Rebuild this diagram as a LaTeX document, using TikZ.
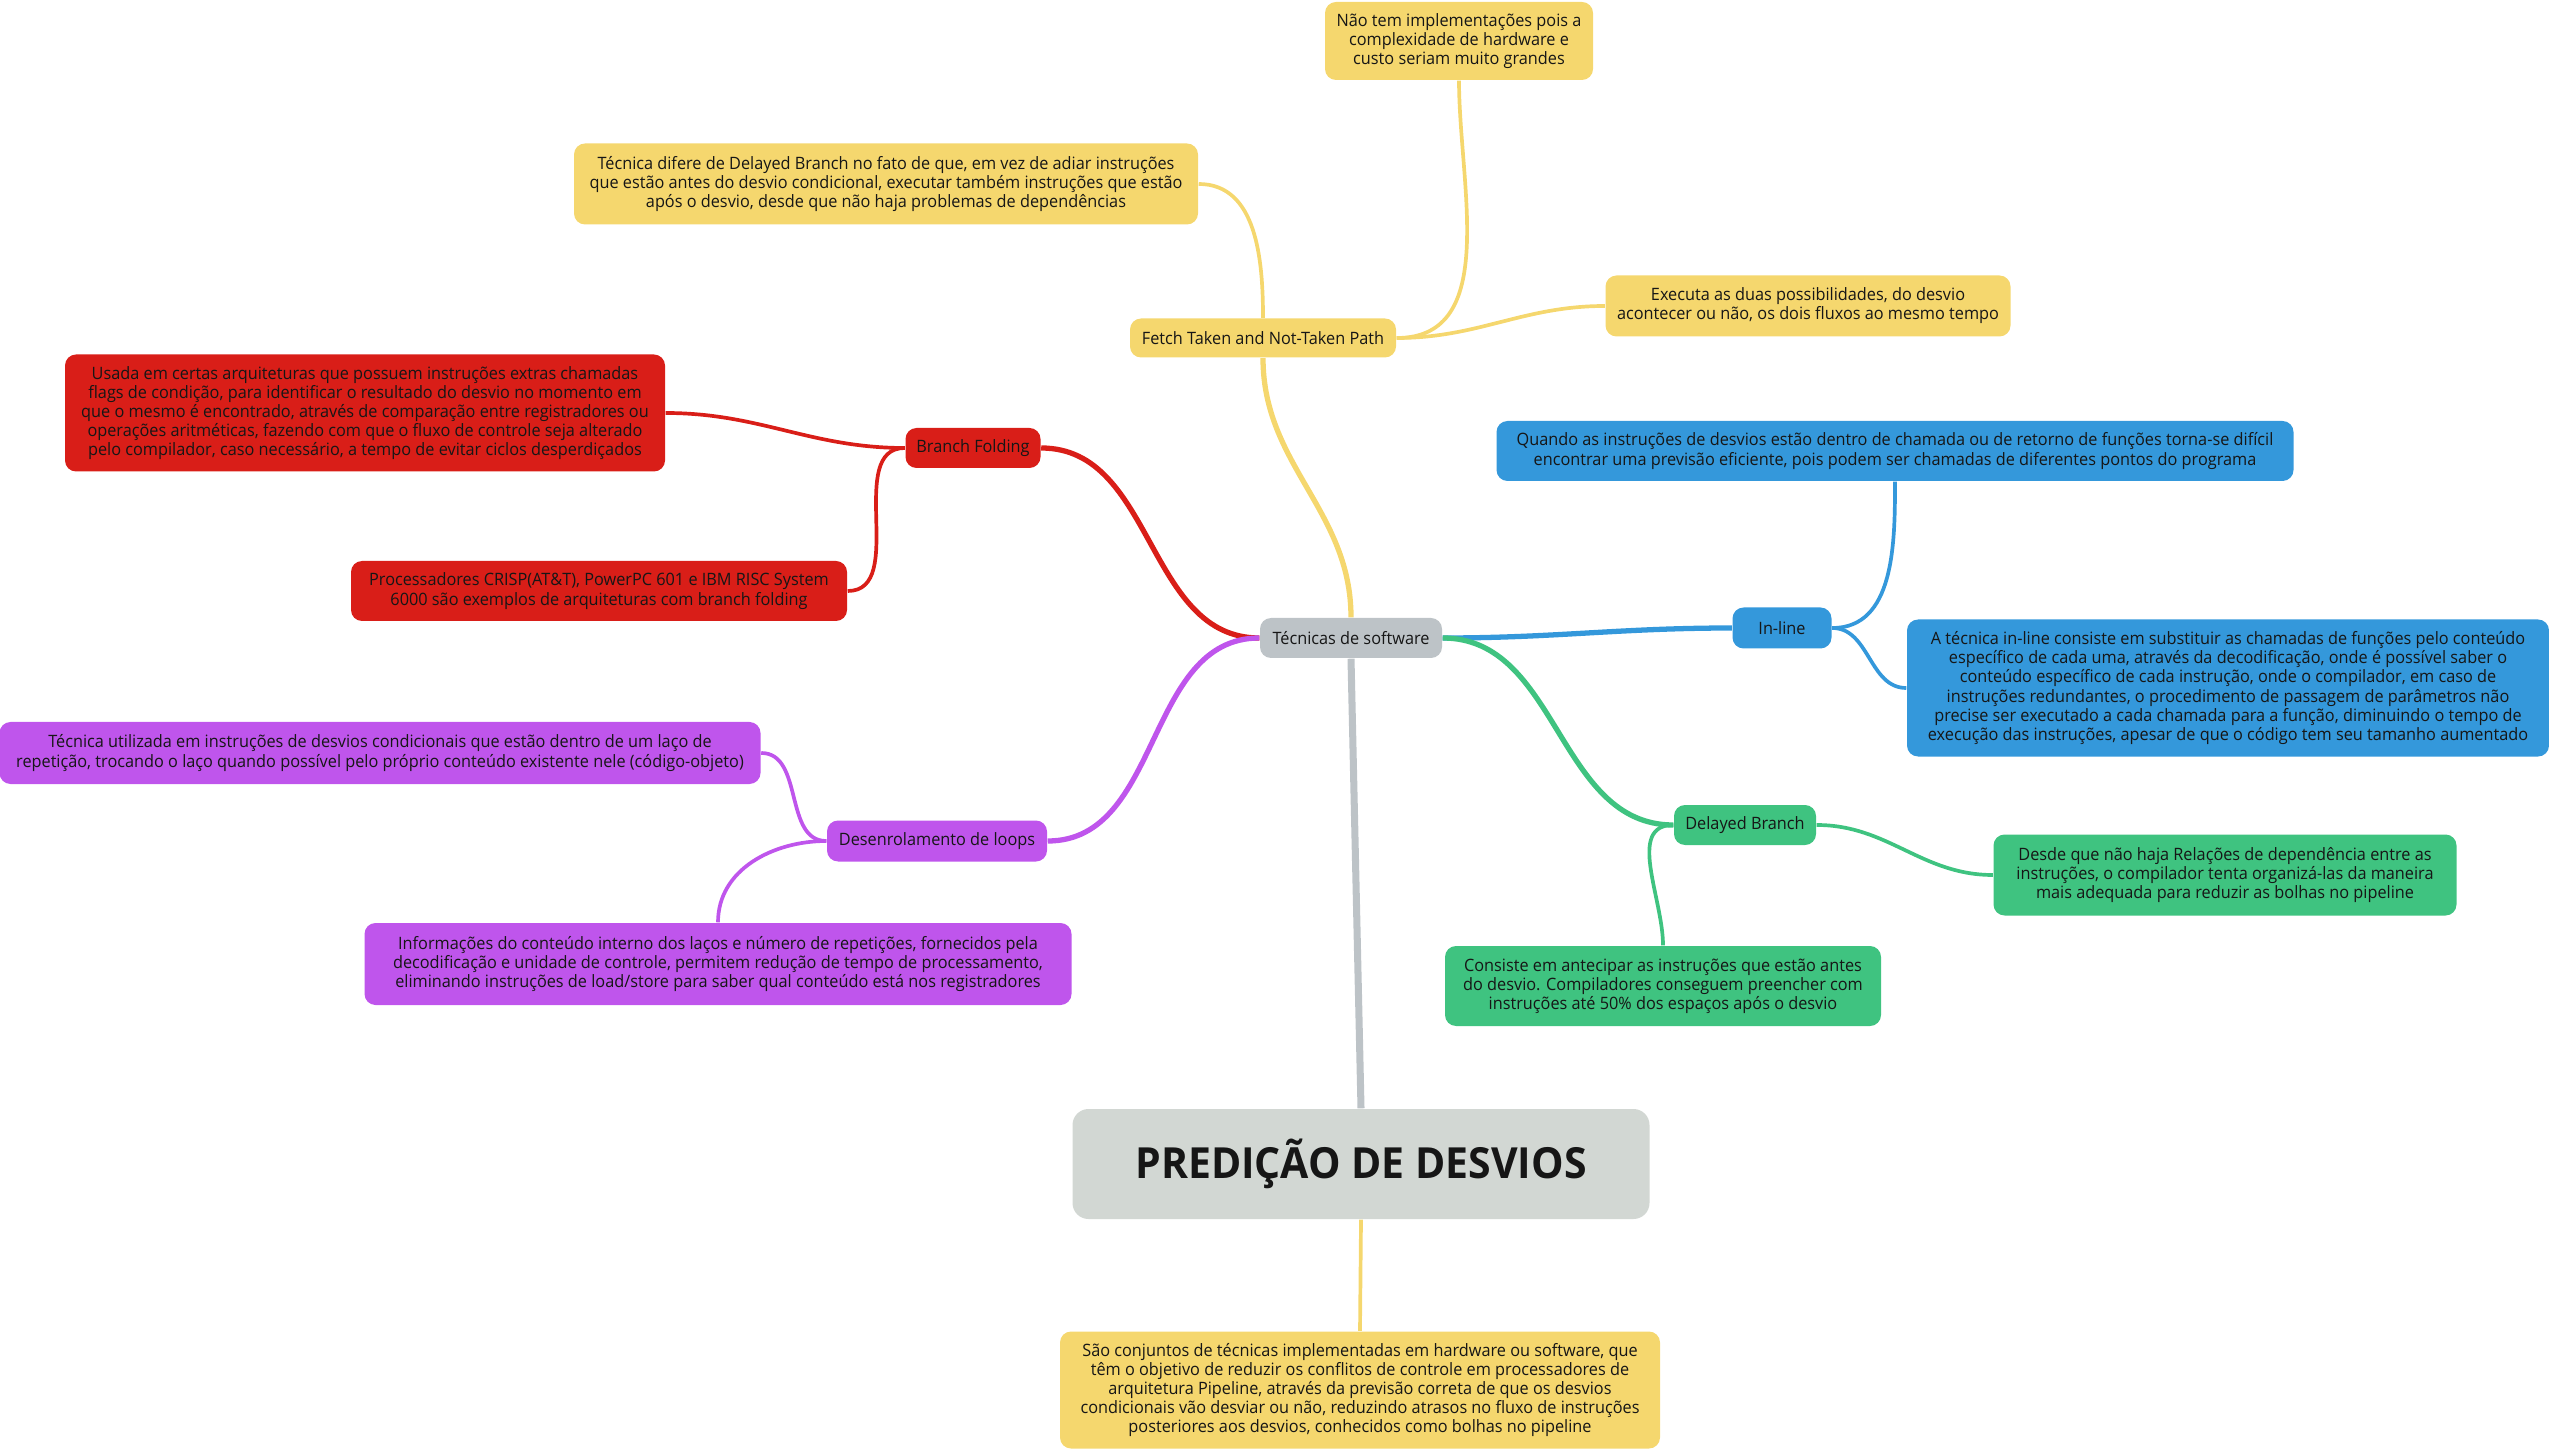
\documentclass[tikz,border=0pt]{standalone}
\usepackage{fontspec}
\setmainfont{Open Sans}[FakeStretch=0.955]
\usepackage{tikz}
\usetikzlibrary{positioning,backgrounds}
\definecolor{mapyellow}{RGB}{245,215,110}
\definecolor{mapred}{RGB}{217,30,24}
\definecolor{mapblue}{RGB}{52,152,219}
\definecolor{mapgreen}{RGB}{63,195,128}
\definecolor{mappurple}{RGB}{191,85,236}
\definecolor{mapgray}{RGB}{189,195,199}
\definecolor{maptitle}{RGB}{210,215,211}
\definecolor{maptext}{RGB}{22,22,22}

\begin{document}
\begin{tikzpicture}[line cap=round, font=\fontsize{4.85}{5.45}\selectfont,
   topic/.style={fill=#1, rounded corners=0.11cm, align=center, text=maptext, inner sep=0pt},
   branch/.style={draw=#1, line width=1.5pt},
   twig/.style={draw=#1, line width=1.05pt}]
   \path[use as bounding box] (0,0) rectangle (25.49,-14.50); % whole canvas

   % centre and title
   \node[topic=mapgray, minimum width=1.82cm, minimum height=0.40cm] (software) at (13.51,-6.38) {Técnicas de software};
   \node[topic=maptitle, minimum width=5.77cm, minimum height=1.10cm, font=\fontsize{12.2}{14}\selectfont\bfseries, rounded corners=0.16cm] (titulo) at (13.61,-11.64) {PREDIÇÃO DE DESVIOS};
   \node[topic=mapyellow, minimum width=6.00cm, minimum height=1.17cm] (saoconj) at (13.60,-13.90)
      {São conjuntos de técnicas implementadas em hardware ou software, que\\têm o objetivo de reduzir os conflitos de controle em processadores de\\arquitetura Pipeline, através da previsão correta de que os desvios\\condicionais vão desviar ou não, reduzindo atrasos no fluxo de instruções\\posteriores aos desvios, conhecidos como bolhas no pipeline};

   % yellow branch
   \node[topic=mapyellow, minimum width=2.66cm, minimum height=0.39cm] (fetch) at (12.63,-3.38) {Fetch Taken and Not-Taken Path};
   \node[topic=mapyellow, minimum width=2.68cm, minimum height=0.78cm] (naoimpl) at (14.59,-0.41)
      {Não tem implementações pois a\\complexidade de hardware e\\custo seriam muito grandes};
   \node[topic=mapyellow, minimum width=6.24cm, minimum height=0.81cm] (difere) at (8.86,-1.84)
      {Técnica difere de Delayed Branch no fato de que, em vez de adiar instruções\\que estão antes do desvio condicional, executar também instruções que estão\\após o desvio, desde que não haja problemas de dependências};
   \node[topic=mapyellow, minimum width=4.05cm, minimum height=0.61cm] (executa) at (18.08,-3.06)
      {Executa as duas possibilidades, do desvio\\acontecer ou não, os dois fluxos ao mesmo tempo};

   % red branch
   \node[topic=mapred, minimum width=1.35cm, minimum height=0.40cm] (folding) at (9.73,-4.48) {Branch Folding};
   \node[topic=mapred, minimum width=6.00cm, minimum height=1.17cm] (usada) at (3.65,-4.13)
      {Usada em certas arquiteturas que possuem instruções extras chamadas\\flags de condição, para identificar o resultado do desvio no momento em\\que o mesmo é encontrado, através de comparação entre registradores ou\\operações aritméticas, fazendo com que o fluxo de controle seja alterado\\pelo compilador, caso necessário, a tempo de evitar ciclos desperdiçados};
   \node[topic=mapred, minimum width=4.96cm, minimum height=0.60cm] (crisp) at (5.99,-5.91)
      {Processadores CRISP(AT\&T), PowerPC 601 e IBM RISC System\\6000 são exemplos de arquiteturas com branch folding};

   % blue branch
   \node[topic=mapblue, minimum width=0.99cm, minimum height=0.41cm] (inline) at (17.82,-6.28) {In-line};
   \node[topic=mapblue, minimum width=7.97cm, minimum height=0.60cm] (quando) at (18.95,-4.51)
      {Quando as instruções de desvios estão dentro de chamada ou de retorno de funções torna-se difícil\\encontrar uma previsão eficiente, pois podem ser chamadas de diferentes pontos do programa};
   \node[topic=mapblue, minimum width=6.42cm, minimum height=1.37cm] (inlinetxt) at (22.28,-6.88)
      {A técnica in-line consiste em substituir as chamadas de funções pelo conteúdo\\específico de cada uma, através da decodificação, onde é possível saber o\\conteúdo específico de cada instrução, onde o compilador, em caso de\\instruções redundantes, o procedimento de passagem de parâmetros não\\precise ser executado a cada chamada para a função, diminuindo o tempo de\\execução das instruções, apesar de que o código tem seu tamanho aumentado};

   % green branch
   \node[topic=mapgreen, minimum width=1.42cm, minimum height=0.40cm] (delayed) at (17.45,-8.25) {Delayed Branch};
   \node[topic=mapgreen, minimum width=4.63cm, minimum height=0.81cm] (desde) at (22.25,-8.75)
      {Desde que não haja Relações de dependência entre as\\instruções, o compilador tenta organizá-las da maneira\\mais adequada para reduzir as bolhas no pipeline};
   \node[topic=mapgreen, minimum width=4.36cm, minimum height=0.80cm] (consiste) at (16.63,-9.86)
      {Consiste em antecipar as instruções que estão antes\\do desvio. Compiladores conseguem preencher com\\instruções até 50\% dos espaços após o desvio};

   % purple branch
   \node[topic=mappurple, minimum width=2.20cm, minimum height=0.41cm] (desenrol) at (9.37,-8.41) {Desenrolamento de loops};
   \node[topic=mappurple, minimum width=7.61cm, minimum height=0.62cm] (utilizada) at (3.80,-7.53)
      {Técnica utilizada em instruções de desvios condicionais que estão dentro de um laço de\\repetição, trocando o laço quando possível pelo próprio conteúdo existente nele (código-objeto)};
   \node[topic=mappurple, minimum width=7.07cm, minimum height=0.82cm] (informa) at (7.18,-9.64)
      {Informações do conteúdo interno dos laços e número de repetições, fornecidos pela\\decodificação e unidade de controle, permitem redução de tempo de processamento,\\eliminando instruções de load/store para saber qual conteúdo está nos registradores};

   \begin{scope}[on background layer]
      \draw[mapgray, line width=2pt] (titulo.north) -- (software.south);
      \draw[twig=mapyellow] (titulo.south) -- (saoconj.north);

      \draw[branch=mapyellow] (software.north) to[out=90,in=-90] (fetch.south);
      \draw[twig=mapyellow] (fetch.north) to[out=90,in=0] (difere.east);
      \draw[twig=mapyellow] (fetch.east) to[out=0,in=-90] (naoimpl.south);
      \draw[twig=mapyellow] (fetch.east) to[out=0,in=180] (executa.west);

      \draw[branch=mapred] (software.west) to[out=180,in=0] (folding.east);
      \draw[twig=mapred] (folding.west) to[out=180,in=0] (usada.east);
      \draw[twig=mapred] (folding.west) to[out=180,in=0] (crisp.east);

      \draw[branch=mapblue] (software.east) to[out=0,in=180] (inline.west);
      \draw[twig=mapblue] (inline.east) to[out=0,in=-90] (quando.south);
      \draw[twig=mapblue] (inline.east) to[out=0,in=180] (inlinetxt.west);

      \draw[branch=mapgreen] (software.east) to[out=0,in=180] (delayed.west);
      \draw[twig=mapgreen] (delayed.east) to[out=0,in=180] (desde.west);
      \draw[twig=mapgreen] (delayed.west) to[out=180,in=90] (consiste.north);

      \draw[branch=mappurple] (software.west) to[out=180,in=0] (desenrol.east);
      \draw[twig=mappurple] (desenrol.west) to[out=180,in=0] (utilizada.east);
      \draw[twig=mappurple] (desenrol.west) to[out=180,in=90] (informa.north);
   \end{scope}

\end{tikzpicture}
\end{document}
